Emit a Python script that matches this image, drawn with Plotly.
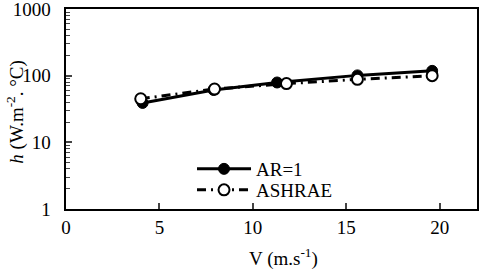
import plotly.graph_objects as go

ar_x = [4.1, 7.9, 11.3, 15.6, 19.6]
ar_y = [39, 61, 79, 101, 118]
ash_x = [4.0, 7.95, 11.8, 15.6, 19.6]
ash_y = [45, 63, 76, 88, 100]
y_ticks = [1, 10, 100, 1000]
y_labels = ["1", "10", "100", "1000"]
x_ticks = [0, 5, 10, 15, 20]

FONT = "Times New Roman"
FS = 19
PAD = "\u2002"

fig = go.Figure()
fig.add_trace(go.Scatter(
    x=ar_x, y=ar_y, name="AR=1", mode="lines+markers", legend="legend",
    line=dict(color="black", width=3),
    marker=dict(symbol="circle", size=11, color="black", line=dict(color="black", width=1)),
))
fig.add_trace(go.Scatter(
    x=ash_x, y=ash_y, name="ASHRAE", mode="lines+markers", legend="legend2",
    line=dict(color="black", width=3, dash="9px,5px,2px,5px"),
    marker=dict(symbol="circle", size=11, color="white", line=dict(color="black", width=2)),
))

leg_common = dict(xanchor="left", yanchor="middle", bgcolor="rgba(0,0,0,0)",
                  font=dict(family=FONT, size=FS), itemwidth=54)
fig.update_layout(
    width=480, height=270,
    margin=dict(l=66, r=3, t=9, b=61, autoexpand=False),
    paper_bgcolor="white", plot_bgcolor="white",
    font=dict(family=FONT, size=FS, color="black"),
    showlegend=True,
    legend=dict(x=0.3066, y=0.20, **leg_common),
    legend2=dict(x=0.3066, y=0.095, **leg_common),
    annotations=[
        dict(text="<i>h</i> (W.m<sup>-2</sup>. °C)", xref="paper", yref="paper",
             x=-0.125, y=0.485, xanchor="center", yanchor="middle", textangle=-90,
             showarrow=False, font=dict(family=FONT, size=FS)),
        dict(text="V (m.s<sup>-1</sup>)", xref="paper", yref="paper",
             x=0.529, y=-0.24, xanchor="center", yanchor="middle",
             showarrow=False, font=dict(family=FONT, size=FS)),
    ],
)
fig.update_xaxes(
    range=[0, 22], tickvals=x_ticks, ticks="inside", ticklen=6, tickwidth=1.5,
    showline=True, linecolor="black", linewidth=2, mirror=True, showgrid=False, zeroline=False,
    automargin=False, ticklabeloverflow="allow",
    tickfont=dict(family=FONT, size=FS),
)
fig.update_yaxes(
    type="log", range=[0, 3], tickvals=y_ticks, ticktext=[t + PAD for t in y_labels],
    ticks="inside", ticklen=6, tickwidth=1.5,
    minor=dict(ticks="inside", ticklen=4, tickwidth=1, dtick="D1", showgrid=False),
    showline=True, linecolor="black", linewidth=2, mirror=True, showgrid=False, zeroline=False,
    automargin=False, ticklabeloverflow="allow",
    tickfont=dict(family=FONT, size=FS),
)

fig.write_html("out.html", config={"displayModeBar": False},
               post_script="document.body.style.margin='0';document.body.style.overflow='hidden';")
